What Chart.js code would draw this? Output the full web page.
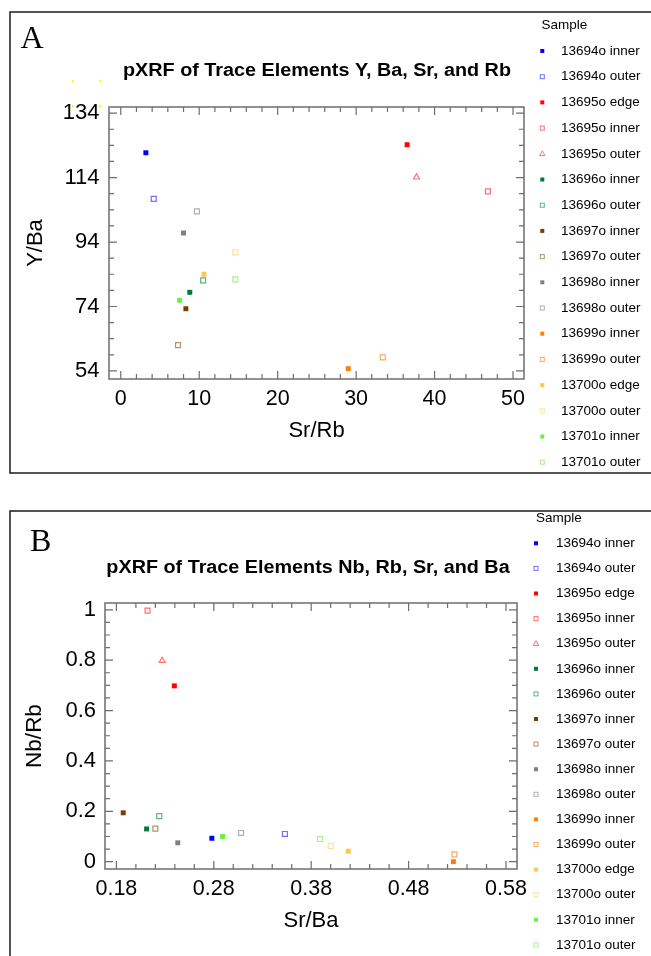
<!DOCTYPE html>
<html>
<head>
<meta charset="utf-8">
<script src="https://cdn.jsdelivr.net/npm/chart.js@4/dist/chart.umd.min.js"></script>
<style>
  html, body { margin: 0; padding: 0; background: #fff; }
  canvas { position: absolute; left: 0; }
  #chartA { top: 0; }
  #chartB { top: 480px; }
</style>
</head>
<body>
<canvas id="chartA" width="651" height="480"></canvas>
<canvas id="chartB" width="651" height="476"></canvas>
<script>
// samples (legend order)
const samples = ['13694o inner', '13694o outer', '13695o edge', '13695o inner', '13695o outer',
  '13696o inner', '13696o outer', '13697o inner', '13697o outer', '13698o inner', '13698o outer',
  '13699o inner', '13699o outer', '13700o edge', '13700o outer', '13701o inner', '13701o outer'];

// panel A: Sr/Rb vs Y/Ba
const srRb = [3.2, 4.2, 36.5, 46.8, 37.7, 8.8, 10.5, 8.3, 7.3, 8.0, 9.7, 29.0, 33.4, 10.6, 14.6, 7.5, 14.6];
const yBa = [121.7, 107.4, 124.2, 109.7, 114.1, 78.4, 82.1, 73.3, 62.0, 96.8, 103.5, 54.7, 58.2, 84.0, 90.8, 75.9, 82.4];

// panel B: Sr/Ba vs Nb/Rb
const srBa = [0.278, 0.353, 0.2395, 0.212, 0.227, 0.211, 0.224, 0.187, 0.220, 0.243, 0.308, 0.526, 0.527, 0.418, 0.400, 0.289, 0.389];
const nbRb = [0.093, 0.110, 0.698, 0.997, 0.798, 0.130, 0.181, 0.194, 0.131, 0.075, 0.114, 0.000, 0.029, 0.042, 0.062, 0.100, 0.090];

// tick labels
const ticksAx = [0, 10, 20, 30, 40, 50];
const ticksAy = [54, 74, 94, 114, 134];
const ticksBx = [0.18, 0.28, 0.38, 0.48, 0.58];
const ticksBy = [0, 0.2, 0.4, 0.6, 0.8, 1];

// marker styles
const colors = ['#0000ff', '#7070ff', '#ff0000', '#ff7070', '#ff7070', '#007a3d', '#5db587', '#7a3d00', '#b8906e',
  '#808080', '#b0b0b0', '#ff8000', '#ffa85a', '#ffc848', '#ffe0a0', '#6cf040', '#a8f090'];
const filled = [true, false, true, false, false, true, false, true, false, true, false, true, false, true, false, true, false];
const shapes = ['rect', 'rect', 'rect', 'rect', 'triangle', 'rect', 'rect', 'rect', 'rect', 'rect', 'rect', 'rect', 'rect', 'rect', 'rect', 'rect', 'rect'];

Chart.defaults.font.family = '"Liberation Sans", Arial, sans-serif';
Chart.defaults.color = '#000';

function makeSets(xs, ys) {
  return samples.map((s, i) => ({
    label: s,
    data: [{x: xs[i], y: ys[i]}],
    pointStyle: shapes[i],
    pointRadius: 3.5,
    pointBackgroundColor: filled[i] ? colors[i] : '#ffffff',
    pointBorderColor: colors[i],
    pointBorderWidth: filled[i] ? 0 : 1.2,
    showLine: false
  }));
}

// majors + minor ticks between them
function tickList(majors, step) {
  const out = [];
  const first = majors[0], last = majors[majors.length - 1];
  const n = Math.round((last - first) / step);
  for (let i = 0; i <= n; i++) out.push(Math.round((first + i * step) * 1e6) / 1e6);
  return out;
}
function isMajor(majors, v) {
  return majors.some(m => Math.abs(m - v) < 1e-6);
}

function axis(majors, step, min, max, fontSize, pad, title, titleSize, titlePad, size, horiz) {
  return {
    type: 'linear', min: min, max: max,
    afterBuildTicks: s => { s.ticks = tickList(majors, step).map(v => ({value: v})); },
    afterFit: s => { if (horiz) s.height = size; else s.width = size; },
    grid: {display: false, drawTicks: false, drawOnChartArea: false},
    border: {display: false},
    ticks: {
      autoSkip: false, maxRotation: 0, padding: pad, color: '#000',
      font: {size: fontSize},
      callback: v => isMajor(majors, v) ? String(Math.round(v * 100) / 100) : ''
    },
    title: {display: true, text: title, color: '#000', font: {size: titleSize}, padding: titlePad}
  };
}

function decor(cfg) {
  return {
    id: 'decor',
    afterDraw(chart) {
      const {ctx, chartArea: a, scales} = chart;
      ctx.save();
      // panel box
      ctx.strokeStyle = '#1c1c1c';
      ctx.lineWidth = 1.5;
      ctx.strokeRect(cfg.box[0], cfg.box[1], cfg.box[2], cfg.box[3]);
      // plot frame
      ctx.strokeStyle = '#6e6e6e';
      ctx.lineWidth = 1.5;
      ctx.strokeRect(a.left, a.top, a.right - a.left, a.bottom - a.top);
      // inward ticks
      ctx.lineWidth = 1.2;
      ctx.beginPath();
      scales.x.ticks.forEach(t => {
        const p = scales.x.getPixelForValue(t.value);
        const len = t.label ? 8 : 5;
        ctx.moveTo(p, a.bottom); ctx.lineTo(p, a.bottom - len);
        ctx.moveTo(p, a.top); ctx.lineTo(p, a.top + len);
      });
      scales.y.ticks.forEach(t => {
        const p = scales.y.getPixelForValue(t.value);
        const len = t.label ? 8 : 5;
        ctx.moveTo(a.left, p); ctx.lineTo(a.left + len, p);
        ctx.moveTo(a.right, p); ctx.lineTo(a.right - len, p);
      });
      ctx.stroke();
      // chart title (wide bold face, stretched a little)
      ctx.fillStyle = '#000';
      ctx.font = 'bold 17.5px "Liberation Sans", Arial, sans-serif';
      ctx.textAlign = 'center';
      ctx.textBaseline = 'alphabetic';
      ctx.save();
      ctx.translate(cfg.titleX, cfg.titleY);
      ctx.scale(1.13, 1);
      ctx.fillText(cfg.title, 0, 0);
      ctx.restore();
      // panel letter
      ctx.font = '32px "Liberation Serif", "Times New Roman", serif';
      ctx.textAlign = 'left';
      ctx.fillText(cfg.letter, cfg.letterX, cfg.letterY);
      // stray yellow handles
      if (cfg.handles) {
        ctx.fillStyle = '#ffff00';
        cfg.handles.forEach(h => ctx.fillRect(h[0], h[1], 2, 2));
      }
      // legend
      const L = cfg.legend;
      ctx.fillStyle = '#000';
      ctx.font = '13.5px "Liberation Sans", Arial, sans-serif';
      ctx.textBaseline = 'middle';
      ctx.fillText('Sample', L.titleX, L.titleY);
      chart.data.datasets.forEach((ds, i) => {
        const y = L.y0 + i * L.dy;
        const x = L.markX;
        ctx.fillStyle = '#000';
        ctx.fillText(ds.label, L.textX, y);
        ctx.lineWidth = 1;
        if (ds.pointStyle === 'triangle') {
          ctx.beginPath();
          ctx.moveTo(x, y - 3); ctx.lineTo(x + 2.6, y + 1.8); ctx.lineTo(x - 2.6, y + 1.8); ctx.closePath();
          ctx.strokeStyle = ds.pointBorderColor;
          ctx.stroke();
        } else if (ds.pointBorderWidth > 0) {
          ctx.strokeStyle = ds.pointBorderColor;
          ctx.strokeRect(x - 2, y - 2, 4, 4);
        } else {
          ctx.fillStyle = ds.pointBackgroundColor;
          ctx.fillRect(x - 2, y - 2, 4, 4);
        }
      });
      ctx.restore();
    }
  };
}

new Chart(document.getElementById('chartA'), {
  type: 'scatter',
  data: {datasets: makeSets(srRb, yBa)},
  options: {
    responsive: false, animation: false, events: [],
    layout: {padding: {left: 0, top: 107, right: 127, bottom: 0}},
    plugins: {legend: {display: false}, title: {display: false}, tooltip: {enabled: false}},
    scales: {
      x: axis(ticksAx, 2, -1.5, 51.4, 21.5, 7, 'Sr/Rb', 22, {top: 0, bottom: 36}, 101, true),
      y: axis(ticksAy, 5, 51.5, 135.9, 22, 9.5, 'Y/Ba', 22, {top: 23, bottom: 0}, 109, false)
    }
  },
  plugins: [decor({
    box: [10, 12, 700, 461],
    title: 'pXRF of Trace Elements Y, Ba, Sr, and Rb', titleX: 317, titleY: 76,
    letter: 'A', letterX: 20.5, letterY: 48,
    handles: [[72, 80], [99, 80], [72, 105], [99, 105]],
    legend: {titleX: 541.5, titleY: 25, markX: 542.3, textX: 561, y0: 51, dy: 25.7}
  })]
});

new Chart(document.getElementById('chartB'), {
  type: 'scatter',
  data: {datasets: makeSets(srBa, nbRb)},
  options: {
    responsive: false, animation: false, events: [],
    layout: {padding: {left: 0, top: 123, right: 134, bottom: 0}},
    plugins: {legend: {display: false}, title: {display: false}, tooltip: {enabled: false}},
    scales: {
      x: axis(ticksBx, 0.02, 0.1683, 0.5913, 21.5, 7, 'Sr/Ba', 22, {top: 0, bottom: 22}, 87, true),
      y: axis(ticksBy, 0.05, -0.029, 1.027, 22, 9, 'Nb/Rb', 22.5, {top: 21, bottom: 0}, 105, false)
    }
  },
  plugins: [decor({
    box: [10, 31, 700, 500],
    title: 'pXRF of Trace Elements Nb, Rb, Sr, and Ba', titleX: 308, titleY: 93,
    letter: 'B', letterX: 30, letterY: 71,
    legend: {titleX: 536, titleY: 38, markX: 536, textX: 556, y0: 63.3, dy: 25.1}
  })]
});
</script>
</body>
</html>
